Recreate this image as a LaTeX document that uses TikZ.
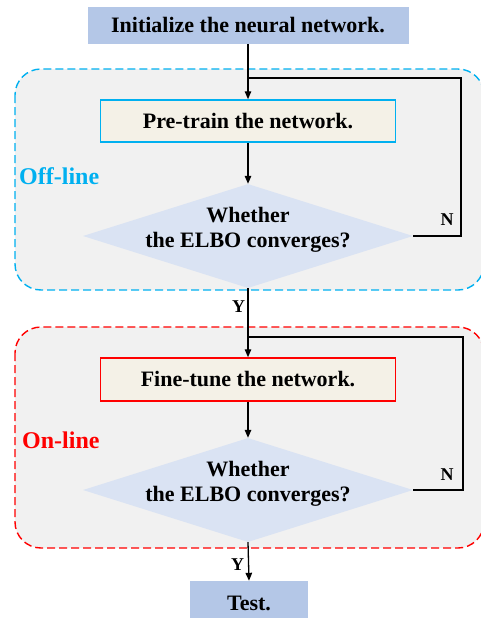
\documentclass[tikz,border=0pt]{standalone}
\usepackage{fontspec}
\setmainfont{Liberation Serif}
\usetikzlibrary{shapes.geometric,arrows.meta}
\definecolor{initblue}{HTML}{B4C7E7}
\definecolor{ivory}{HTML}{F4F1E7}
\definecolor{diafill}{HTML}{DAE3F3}
\definecolor{regfill}{HTML}{F1F1F1}
\definecolor{offcol}{HTML}{00B0F0}
\definecolor{oncol}{HTML}{FF0000}
\tikzset{
  region/.style={fill=regfill, line width=1.4pt, dash pattern=on 8pt off 4pt, rounded corners=26pt},
  txt/.style={font=\bfseries\fontsize{22}{25}\selectfont, align=center},
  endbox/.style={txt, fill=initblue, inner sep=0pt},
  stepbox/.style={txt, fill=ivory, line width=1.5pt, inner sep=0pt, minimum width=295pt, minimum height=42pt},
  decision/.style={diamond, fill=diafill, inner sep=0pt, minimum width=330pt, minimum height=104pt},
  conn/.style={line width=1.3pt, black},
  arr/.style={conn, -{Triangle[length=8pt,width=6.5pt]}},
  phase/.style={font=\bfseries\fontsize{24}{28}\selectfont, anchor=west, inner sep=0pt},
  yn/.style={font=\bfseries\fontsize{18}{20}\selectfont}
}
\begin{document}
\begin{tikzpicture}[x=1pt,y=-1pt]
\useasboundingbox (0,0) rectangle (481,618);
% regions
\draw[region, draw=offcol] (15,69) rectangle (484,290);
\draw[region, draw=oncol] (15,327) rectangle (484,548);
\node[phase, text=offcol] (offl) at (19,176) {Off-line};
\node[phase, text=oncol] (onl) at (22,440) {On-line};
% nodes
\node[endbox, minimum width=321pt, minimum height=37pt] (init) at (248,25.5) {Initialize the neural network.};
\node[stepbox, draw=offcol] (pre) at (248,121) {Pre-train the network.};
\node[decision] (d1) at (248,236) {};
\node[txt] (d1t) at (248,230) {Whether\\the ELBO converges?};
\node[stepbox, draw=oncol, minimum height=43pt] (fine) at (248,379.5) {Fine-tune the network.};
\node[decision] (d2) at (248,490) {};
\node[txt] (d2t) at (248,484) {Whether\\the ELBO converges?};
\node[endbox, minimum width=118pt, minimum height=44pt] (test) at (249,603) {Test.};
% coordinates for loops
\coordinate (c1) at (248,78);
\coordinate (r1) at (461,78);
\coordinate (c2) at (248,337);
\coordinate (r2) at (463,337);
% connectors
\draw[arr] (init.south) -- (pre.north);
\draw[arr] (pre.south) -- (d1.north);
\draw[conn] (d1.east) -| (r1) -- (c1);
\draw[arr] (d1.south) -- (fine.north);
\draw[arr] (fine.south) -- (d2.north);
\draw[conn] (d2.east) -| (r2) -- (c2);
\draw[arr] (d2.south) -- (test.north);
% labels
\node[yn] (n1) at (447,220) {N};
\node[yn] (n2) at (447,475) {N};
\node[yn] (y1) at (238.5,307) {Y};
\node[yn] (y2) at (237.5,565) {Y};
\end{tikzpicture}
\end{document}
